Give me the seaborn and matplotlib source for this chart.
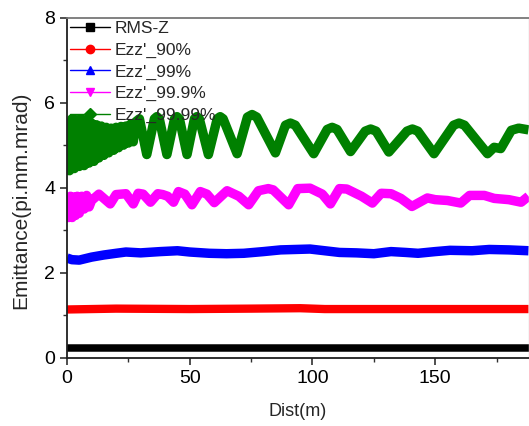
import numpy as np
import pandas as pd
import matplotlib
matplotlib.use("Agg")
import matplotlib.pyplot as plt
from matplotlib.lines import Line2D
import seaborn as sns

# ---------------- data ----------------
series_names = ["RMS-Z", "Ezz'_90%", "Ezz'_99%", "Ezz'_99.9%", "Ezz'_99.99%"]
series_colors = ["#000000", "#ff0000", "#0000ff", "#ff00ff", "#008000"]
series_markers = ["s", "o", "^", "v", "D"]

rms_x = [0, 50, 100, 150, 188]
rms_y = [0.23, 0.23, 0.23, 0.23, 0.23]

e90_x = [0, 20, 50, 75, 95, 105, 140, 188]
e90_y = [1.14, 1.16, 1.15, 1.16, 1.17, 1.15, 1.15, 1.15]

e99_x = [0, 2, 5, 10, 15, 20, 24, 30, 38, 45, 50, 58, 65, 72, 80, 87, 93, 99,
         105, 111, 118, 125, 132, 138, 143, 150, 156, 165, 172, 180, 188]
e99_y = [2.35, 2.31, 2.3, 2.37, 2.42, 2.46, 2.49, 2.47, 2.5, 2.52, 2.49, 2.46,
         2.45, 2.46, 2.5, 2.54, 2.55, 2.56, 2.52, 2.48, 2.47, 2.45, 2.5, 2.48,
         2.46, 2.5, 2.53, 2.52, 2.55, 2.54, 2.52]

e999_x = [0, 0.7, 1.4, 2.1, 2.8, 3.5, 4.2, 5, 6, 7, 8, 9, 10, 13, 17.6, 20, 24,
          27, 29, 31, 34, 37, 39, 41, 43.4, 45.4, 48, 50.9, 54.3, 57, 60, 65.2,
          70, 74, 78, 82, 84, 90.3, 94, 99, 104, 107.3, 111, 114, 120, 124.4,
          128, 132, 136, 140.5, 146.8, 150, 155, 160.4, 164, 170, 174, 180,
          185, 188]
e999_y = [3.75, 3.3, 3.8, 3.3, 3.78, 3.35, 3.8, 3.4, 3.8, 3.5, 3.82, 3.55, 3.7,
          3.85, 3.62, 3.84, 3.86, 3.62, 3.87, 3.85, 3.66, 3.86, 3.84, 3.8, 3.66,
          3.91, 3.85, 3.6, 3.91, 3.85, 3.65, 3.93, 3.8, 3.6, 3.93, 3.98, 3.95,
          3.6, 3.98, 3.99, 3.85, 3.62, 3.98, 3.97, 3.8, 3.64, 3.87, 3.86, 3.75,
          3.56, 3.76, 3.72, 3.7, 3.64, 3.82, 3.82, 3.75, 3.72, 3.66, 3.8]

e9999_x = [0, 1, 2, 3, 4, 5, 6, 7, 8, 9, 10, 11, 12, 13, 14, 15, 16, 17, 18,
           19, 20, 21, 22, 23, 24, 25, 26, 27, 28,
           29.5, 32.5, 35.6, 36.6, 37.6, 40.7, 43.8, 44.8, 45.8, 48.9, 51.9,
           52.9, 53.9, 57.6, 61.2, 62.4, 63.6, 69.3, 73.5, 75.4, 77.3, 84.9,
           89, 91, 93, 100.5, 106, 108, 110, 115.5, 121.5, 123.7, 125.9, 131.1,
           138.5, 140.7, 142.9, 149.5, 157.5, 159.7, 161.9, 171.3, 174, 176.7,
           181, 184, 188]
e9999_y = [5.6, 4.4, 5.62, 4.45, 5.6, 4.5, 5.62, 4.52, 5.58, 4.58, 5.52, 4.62,
           5.48, 4.7, 5.45, 4.76, 5.42, 4.82, 5.4, 4.88, 5.42, 4.94, 5.44, 5.0,
           5.45, 5.05, 5.5, 5.08, 5.55,
           5.62, 4.78, 5.62, 5.67, 5.62, 4.78, 5.62, 5.67, 5.62, 4.78, 5.62,
           5.67, 5.62, 4.78, 5.62, 5.67, 5.62, 4.8, 5.66, 5.72, 5.66, 4.82,
           5.47, 5.52, 5.47, 4.8, 5.37, 5.42, 5.37, 4.85, 5.33, 5.38, 5.33, 4.84,
           5.33, 5.38, 5.33, 4.8, 5.47, 5.52, 5.47, 4.8, 4.95, 4.92,
           5.35, 5.4, 5.36]

xs = [rms_x, e90_x, e99_x, e999_x, e9999_x]
ys = [rms_y, e90_y, e99_y, e999_y, e9999_y]

x_ticks = [0, 50, 100, 150]
y_ticks = [0, 2, 4, 6, 8]

frames = []
for name, x, y in zip(series_names, xs, ys):
    frames.append(pd.DataFrame({"Dist": x, "Emit": y, "series": name}))
df = pd.concat(frames, ignore_index=True)

# ---------------- style ----------------
sns.set_style("ticks")
plt.rcParams["font.family"] = ["Liberation Sans", "DejaVu Sans"]

fig = plt.figure(figsize=(5.29, 4.26), dpi=100)
ax = fig.add_axes([67 / 529, 1 - 358 / 426, (528.5 - 67) / 529, (358 - 17.5) / 426])

widths = {"RMS-Z": 5.4, "Ezz'_90%": 6.0, "Ezz'_99%": 6.8,
          "Ezz'_99.9%": 6.8, "Ezz'_99.99%": 6.8}
for name, col in zip(series_names, series_colors):
    sub = df[df["series"] == name]
    sns.lineplot(data=sub, x="Dist", y="Emit", color=col, sort=False,
                 estimator=None, linewidth=widths[name], ax=ax, legend=False,
                 solid_joinstyle="round", solid_capstyle="butt")

ax.set_xlim(0, 188)
ax.set_ylim(0, 8)
ax.set_xticks(x_ticks)
ax.set_yticks(y_ticks)
ax.set_xticks([25, 75, 125, 175], minor=True)
ax.set_yticks([1, 3, 5, 7], minor=True)
ax.tick_params(axis="both", which="major", direction="out", length=5, width=1.2,
               labelsize=14, colors="#303030", labelcolor="black")
ax.tick_params(axis="both", which="minor", direction="out", length=3, width=1.0,
               colors="#303030")
ax.tick_params(top=False, right=False)

for s in ["left", "bottom"]:
    ax.spines[s].set_color("#202020")
    ax.spines[s].set_linewidth(1.3)
ax.spines["top"].set_color("#777777")
ax.spines["top"].set_linewidth(1.3)
ax.spines["right"].set_color("#cccccc")
ax.spines["right"].set_linewidth(1.0)

ax.set_xlabel("Dist(m)", fontsize=13, labelpad=12)
ax.set_ylabel("Emittance(pi.mm.mrad)", fontsize=15)
ax.yaxis.set_label_coords(-0.080, 0.463)

handles = [Line2D([0], [0], color=c, marker=m, markersize=6, linewidth=1.0)
           for c, m in zip(series_colors, series_markers)]
leg = ax.legend(handles, series_names, loc="upper left", frameon=False,
                fontsize=12.5, handlelength=2.3, handletextpad=0.25,
                labelspacing=0.37, borderaxespad=0.0,
                bbox_to_anchor=(-0.008, 1.01))
leg.set_zorder(10)

fig.savefig("out.png", dpi=100)
